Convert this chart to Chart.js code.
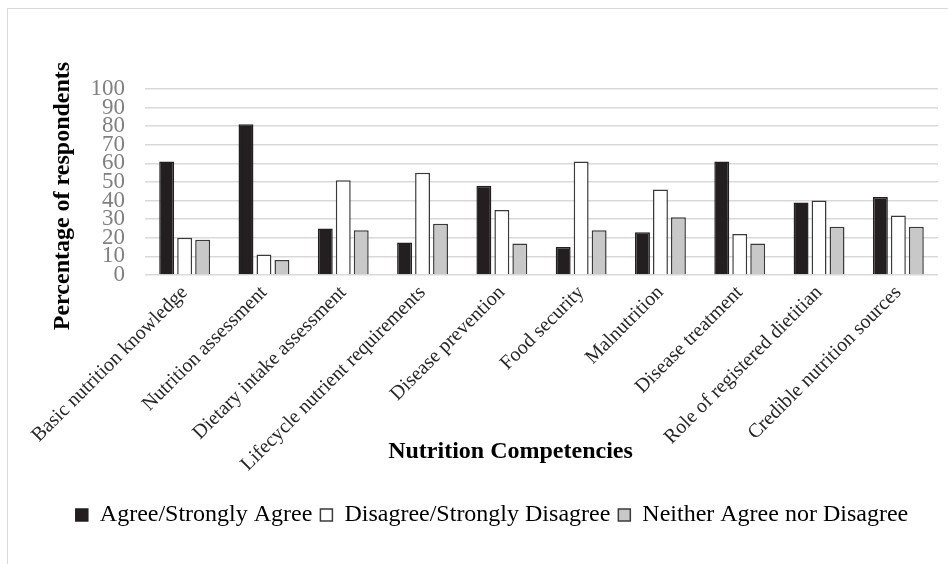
<!DOCTYPE html>
<html>
<head>
<meta charset="utf-8">
<script src="https://cdn.jsdelivr.net/npm/chart.js@4/dist/chart.umd.min.js"></script>
<style>
  html, body { margin: 0; padding: 0; background: #ffffff; overflow: hidden; }
  #frame {
    position: absolute; left: 7px; top: 8px; width: 960px; height: 600px;
    border-left: 1px solid #d9d9d9; border-top: 1px solid #d9d9d9;
  }
  #wrap { position: absolute; left: 8px; top: 9px; width: 940px; height: 555px; }
</style>
</head>
<body>
<div id="frame"></div>
<div id="wrap"><canvas id="chart" width="940" height="555"></canvas></div>
<script>
// Nutrition competencies surveyed
const categories = [
  'Basic nutrition knowledge',
  'Nutrition assessment',
  'Dietary intake assessment',
  'Lifecycle nutrient requirements',
  'Disease prevention',
  'Food security',
  'Malnutrition',
  'Disease treatment',
  'Role of registered dietitian',
  'Credible nutrition sources'
];

const seriesNames = [
  'Agree/Strongly Agree',
  'Disagree/Strongly Disagree',
  'Neither Agree nor Disagree'
];

// Percentage of respondents per response group
const agreeValues    = [61, 81, 25, 17.5, 48, 15, 23, 61, 39, 42];
const disagreeValues = [20, 11, 51, 55, 35, 61, 46, 22, 40, 32];
const neitherValues  = [19, 8, 24, 27.5, 17, 24, 31, 17, 26, 26];

const yTicks = [0, 10, 20, 30, 40, 50, 60, 70, 80, 90, 100];

const SERIF = "'Liberation Serif', 'Times New Roman', serif";

// Axis titles drawn at their own spots around the plot
const axisTitles = {
  id: 'axisTitles',
  afterDraw(chart) {
    const { ctx, chartArea } = chart;
    ctx.save();
    ctx.fillStyle = '#000000';
    ctx.font = "bold 24px " + SERIF;
    ctx.textAlign = 'center';
    ctx.textBaseline = 'middle';
    // x-axis title
    const cx = (chartArea.left + chartArea.right) / 2 - 31;
    ctx.fillText('Nutrition Competencies', cx, chartArea.bottom + 177);
    // y-axis title
    ctx.translate(55, (chartArea.top + chartArea.bottom) / 2 + 14);
    ctx.rotate(-Math.PI / 2);
    ctx.fillText('Percentage of respondents', 0, 0);
    ctx.restore();
  }
};

const barStyle = {
  borderWidth: 1.5,
  categoryPercentage: 0.68,
  barPercentage: 0.83
};

new Chart(document.getElementById('chart'), {
  type: 'bar',
  data: {
    labels: categories,
    datasets: [
      Object.assign({ label: seriesNames[0], data: agreeValues,
        backgroundColor: '#231f20', borderColor: '#231f20' }, barStyle),
      Object.assign({ label: seriesNames[1], data: disagreeValues,
        backgroundColor: '#ffffff', borderColor: '#3a3a3a' }, barStyle),
      Object.assign({ label: seriesNames[2], data: neitherValues,
        backgroundColor: '#c8c8c8', borderColor: '#3a3a3a' }, barStyle)
    ]
  },
  options: {
    responsive: false,
    animation: false,
    devicePixelRatio: 1,
    layout: { padding: { left: 38, right: 10, top: 80, bottom: 27 } },
    plugins: {
      tooltip: { enabled: false },
      legend: {
        position: 'bottom',
        labels: {
          font: { family: SERIF, size: 24 },
          color: '#000000',
          boxWidth: 12,
          boxHeight: 12,
          padding: 8
        }
      }
    },
    scales: {
      x: {
        grid: { display: false, drawTicks: false },
        border: { display: false },
        ticks: {
          font: { family: SERIF, size: 20 },
          color: '#262626',
          maxRotation: 45,
          minRotation: 45,
          padding: 6,
          autoSkip: false
        },
        afterFit(scale) { scale.height = 220; }
      },
      y: {
        min: 0,
        max: 100,
        afterBuildTicks(scale) { scale.ticks = yTicks.map(v => ({ value: v })); },
        grid: { color: '#d9d9d9', lineWidth: 1.5, drawTicks: false },
        border: { display: false },
        ticks: {
          font: { family: SERIF, size: 23, lineHeight: 1 },
          color: '#808080',
          padding: 20,
          autoSkip: false
        },
        afterFit(scale) { scale.width = 99; }
      }
    }
  },
  plugins: [axisTitles]
});
</script>
</body>
</html>
